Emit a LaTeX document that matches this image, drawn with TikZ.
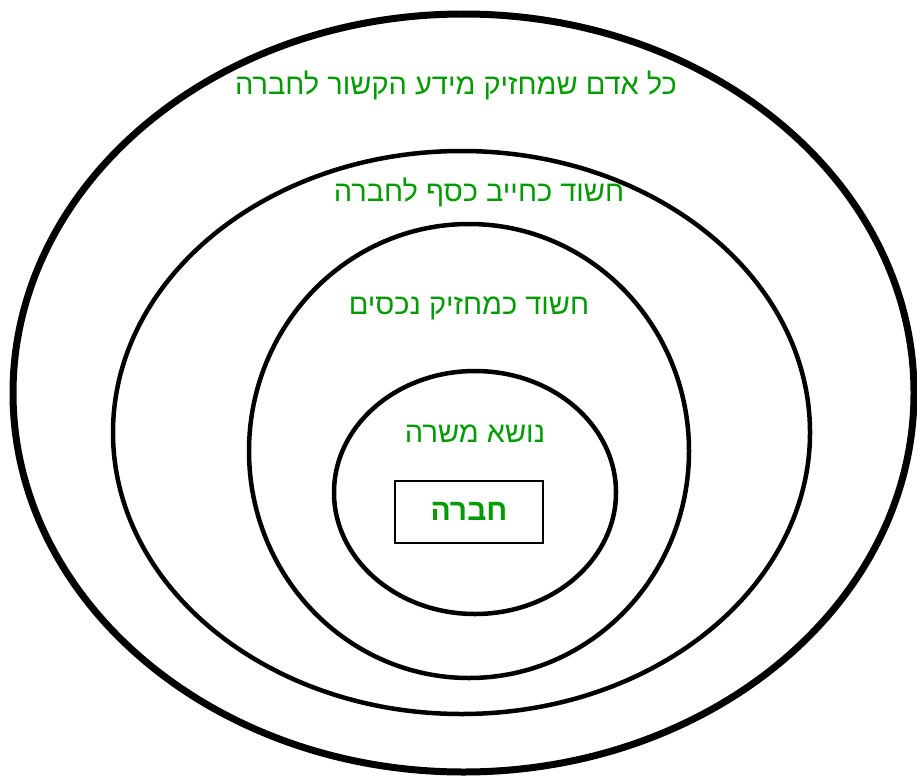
\documentclass[tikz,border=0pt]{standalone}
\usepackage{fontspec}
\setmainfont{Liberation Sans}
\newfontfamily\hebfont[Script=Hebrew]{Liberation Sans}
\TeXXeTstate=1
\usetikzlibrary{shapes.geometric}
\definecolor{labelgreen}{RGB}{0,155,0}

\begin{document}
\begin{tikzpicture}[x=1pt, y=-1pt,
    ring/.style={draw, ellipse, inner sep=0pt},
    circlelabel/.style={text=labelgreen, font=\hebfont\fontsize{29}{33}\selectfont}]
  \useasboundingbox (0,0) rectangle (917,776);
  \node[ring, line width=7pt, minimum width=901pt, minimum height=758pt] (everyone) at (463.5,393) {};
  \node[ring, line width=4.5pt, minimum width=697pt, minimum height=563pt] (debtor) at (461.5,432.5) {};
  \node[ring, line width=4.5pt, minimum width=440pt, minimum height=454pt] (assets) at (469,451) {};
  \node[ring, line width=4.5pt, minimum width=282pt, minimum height=243pt] (officer) at (475,492.5) {};
  \node[draw, line width=1.5pt, minimum width=148pt, minimum height=62pt] (company) at (469,512) {};
  \node[circlelabel] (everyonetext) at (456,85) {\beginR כל אדם שמחזיק מידע הקשור לחברה\endR};
  \node[circlelabel] (debtortext) at (479,192) {\beginR חשוד כחייב כסף לחברה\endR};
  \node[circlelabel] (assetstext) at (469,308) {\beginR חשוד כמחזיק נכסים\endR};
  \node[circlelabel] (officertext) at (475,434) {\beginR נושא משרה\endR};
  \node[circlelabel, font=\hebfont\bfseries\fontsize{30}{34}\selectfont] (companytext) at (469,511) {\beginR חברה\endR};
\end{tikzpicture}
\end{document}
